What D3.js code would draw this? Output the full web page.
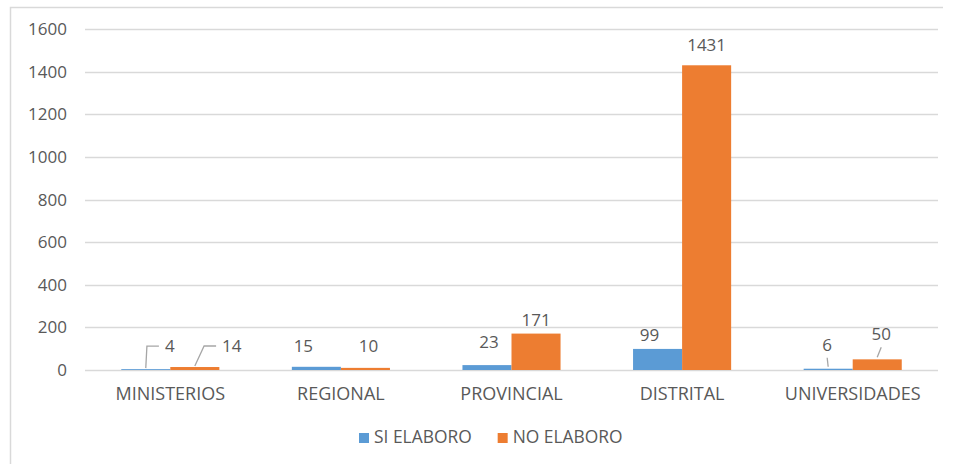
<!DOCTYPE html>
<html>
<head>
<meta charset="utf-8">
<script src="https://cdn.jsdelivr.net/npm/d3@7"></script>
<style>
  body { margin: 0; background: #fff; }
  text { font-family: "Open Sans", sans-serif; fill: #595959; }
</style>
</head>
<body>
<div id="chart"></div>
<script>
const categories = ["MINISTERIOS", "REGIONAL", "PROVINCIAL", "DISTRITAL", "UNIVERSIDADES"]
const siElaboro = [4, 15, 23, 99, 6]
const noElaboro = [14, 10, 171, 1431, 50]
const seriesNames = ["SI ELABORO", "NO ELABORO"]
const yTicks = [0, 200, 400, 600, 800, 1000, 1200, 1400, 1600]

const W = 954, H = 464
const colors = ["#5B9BD5", "#ED7D31"]
const fontSize = "17px"

// label tweaks (excel labels were dragged by hand in the original)
const labelNudge = {
  "SI ELABORO":  { dx: [24, -13, 2, -8, -1], dy: [-9, -7, -9, 0, -10] },
  "NO ELABORO":  { dx: [37, 3, 0, 0, 4], dy: [-7, -8, 0, -6, -11] }
}
const leaderType = { "MINISTERIOS": "elbow", "UNIVERSIDADES": "straight" }

let svg = d3.select("#chart").append("svg")
  .attr("width", W).attr("height", H)

svg.append("rect").attr("width", W).attr("height", H).attr("fill", "#fff")

// chart frame (only top + left visible)
svg.append("path")
  .attr("d", "M10.5," + H + "V7.5H943")
  .attr("fill", "none").attr("stroke", "#d9d9d9").attr("stroke-width", 1.5)

let x0 = d3.scaleBand()
  .domain(categories)
  .range([85, 938])
  .paddingInner(0.425)
  .paddingOuter(0.2125)

let x1 = d3.scaleBand()
  .domain(seriesNames)
  .range([0, x0.bandwidth()])

let y = d3.scaleLinear()
  .domain([0, 1600])
  .range([370, 29.3])

// gridlines
svg.append("g")
  .selectAll("line")
  .data(yTicks)
  .join("line")
  .attr("x1", 85).attr("x2", 938)
  .attr("y1", d => Math.round(y(d)) + 0.5)
  .attr("y2", d => Math.round(y(d)) + 0.5)
  .attr("stroke", "#d9d9d9").attr("stroke-width", 1.3)

// y tick labels
let yAxis = svg.append("g")
  .attr("transform", "translate(85,0)")
  .call(d3.axisLeft(y).tickValues(yTicks).tickFormat(d3.format("d")).tickSize(0).tickPadding(18))
yAxis.select(".domain").remove()
yAxis.selectAll("text")
  .attr("fill", "#595959")
  .style("font-size", fontSize)
  .style("font-family", "Open Sans, sans-serif")

// x category labels
let xAxis = svg.append("g")
  .attr("transform", "translate(0,370)")
  .call(d3.axisBottom(x0).tickSize(0))
xAxis.select(".domain").remove()
xAxis.selectAll("text")
  .attr("y", 30).attr("dy", null)
  .attr("fill", "#595959")
  .style("font-size", "18px")
  .style("font-family", "Open Sans, sans-serif")

let rows = categories.map((c, i) => ({ cat: c, i: i, values: [siElaboro[i], noElaboro[i]] }))

let groups = svg.append("g")
  .selectAll("g")
  .data(rows)
  .join("g")
  .attr("transform", d => "translate(" + x0(d.cat) + ",0)")

groups.selectAll("rect")
  .data(d => seriesNames.map((s, k) => ({ key: s, k: k, value: d.values[k], cat: d.cat, i: d.i })))
  .join("rect")
  .attr("x", d => x1(d.key))
  .attr("y", d => y(d.value))
  .attr("width", x1.bandwidth())
  .attr("height", d => y(0) - y(d.value))
  .attr("fill", d => colors[d.k])

// data labels + leader lines
let labels = svg.append("g")
let leaders = svg.append("g")
rows.forEach(r => {
  seriesNames.forEach((s, k) => {
    let v = r.values[k]
    let bx = x0(r.cat) + x1(s) + x1.bandwidth() / 2
    let by = y(v)
    let lx = bx + labelNudge[s].dx[r.i]
    let ly = by - 8 + labelNudge[s].dy[r.i]
    let t = labels.append("text")
      .attr("x", lx).attr("y", ly)
      .attr("text-anchor", "middle")
      .style("font-size", fontSize)
      .text(v)
    let tw = t.node().getComputedTextLength()
    let type = leaderType[r.cat]
    if (type === "elbow") {
      let left = lx - tw / 2
      let midY = ly - 6
      leaders.append("path")
        .attr("d", `M${bx},${by - 1}L${left - 18},${midY}H${left - 6}`)
        .attr("fill", "none").attr("stroke", "#a6a6a6").attr("stroke-width", 1.3)
    } else if (type === "straight") {
      leaders.append("path")
        .attr("d", `M${bx},${by - 2}L${lx},${ly + 7}`)
        .attr("fill", "none").attr("stroke", "#a6a6a6").attr("stroke-width", 1.3)
    }
  })
})

// legend
let legend = svg.append("g").attr("transform", "translate(359,443)")
let lx = 0
seriesNames.forEach((s, k) => {
  legend.append("rect")
    .attr("x", lx).attr("y", -10)
    .attr("width", 10).attr("height", 10)
    .attr("fill", colors[k])
  let t = legend.append("text")
    .attr("x", lx + 15).attr("y", 0)
    .style("font-size", "17.4px")
    .text(s)
  lx += 15 + t.node().getComputedTextLength() + 26
})
</script>
</body>
</html>
